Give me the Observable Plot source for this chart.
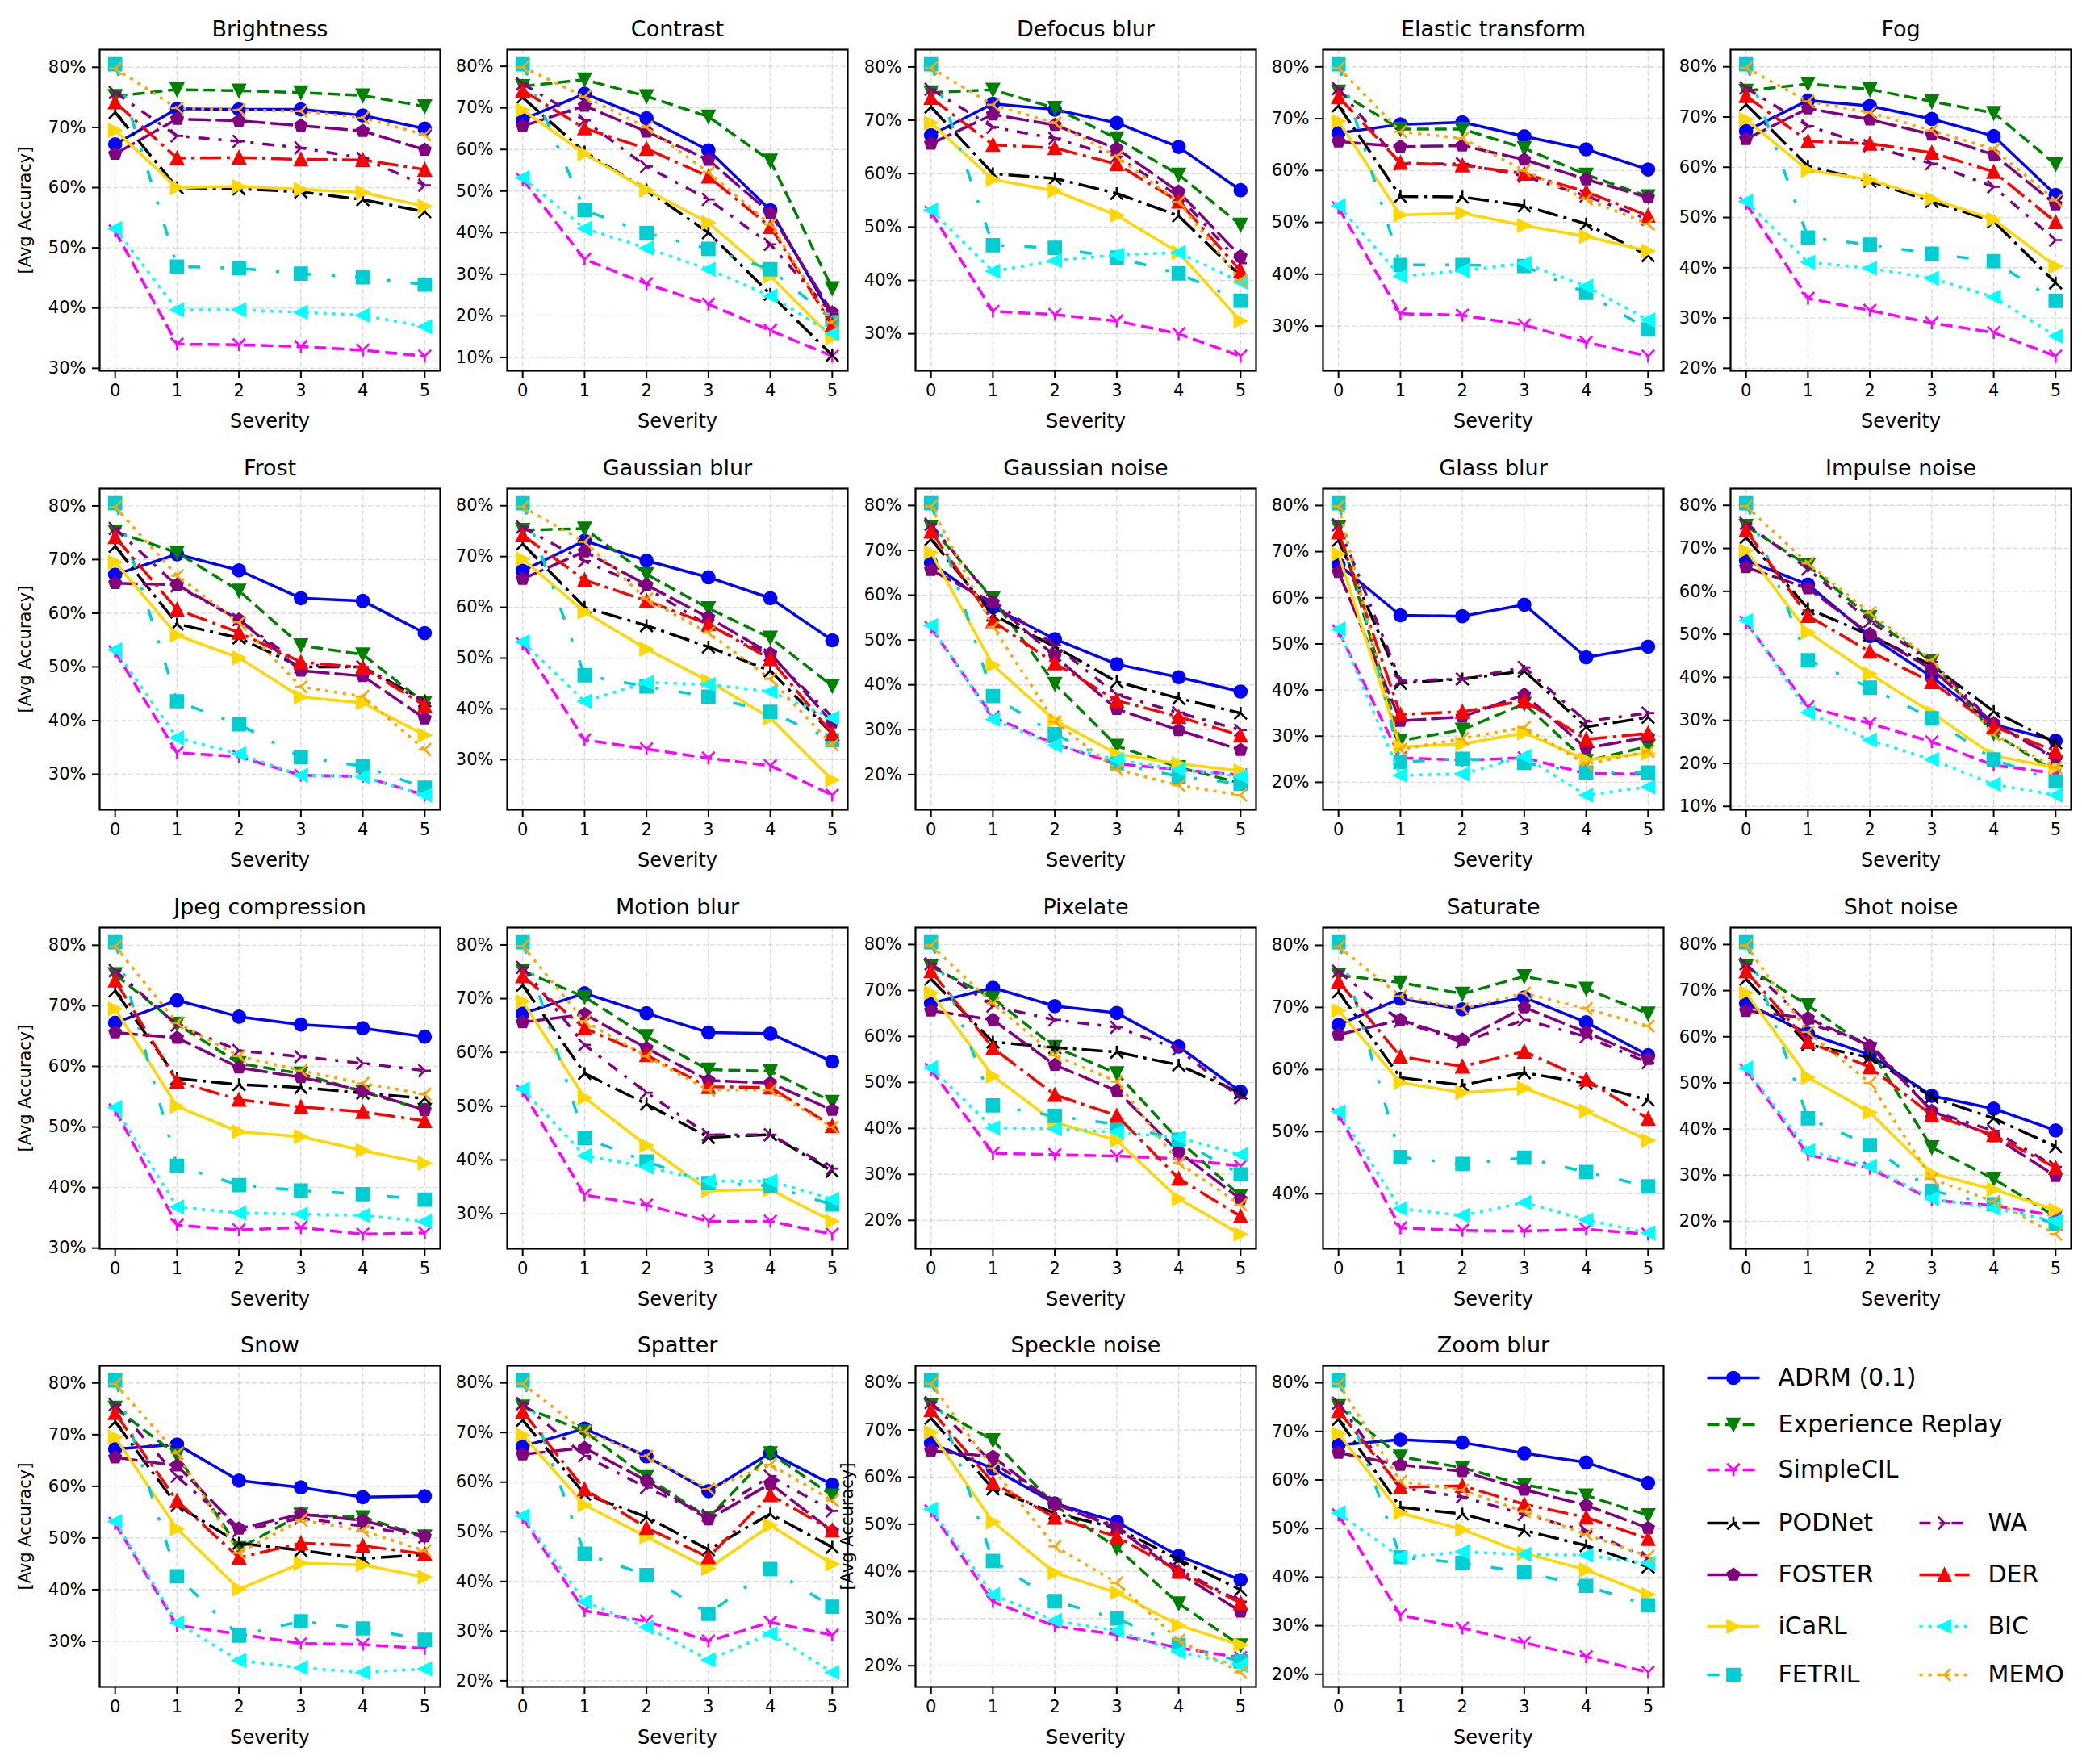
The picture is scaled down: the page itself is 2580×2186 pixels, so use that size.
<!DOCTYPE html>
<html><head><meta charset="utf-8">
<script src="https://cdn.jsdelivr.net/npm/d3@7"></script>
<script src="https://cdn.jsdelivr.net/npm/@observablehq/plot@0.6"></script>
<style>
html,body{margin:0;padding:0;background:#fff;}
#root{position:relative;width:2580px;height:2186px;background:#fff;overflow:hidden;}
.panel{position:absolute;}
.panel svg{overflow:visible;max-width:none;}
</style></head><body><div id="root"></div>
<script>
const corruptions = ["Brightness","Contrast","Defocus blur","Elastic transform","Fog","Frost","Gaussian blur","Gaussian noise","Glass blur","Impulse noise","Jpeg compression","Motion blur","Pixelate","Saturate","Shot noise","Snow","Spatter","Speckle noise","Zoom blur"];
const severities = [0,1,2,3,4,5];
const methods = ["ADRM (0.1)","Experience Replay","SimpleCIL","PODNet","FOSTER","iCaRL","FETRIL","WA","DER","BIC","MEMO"];
const yLabelPanels = ["Brightness","Frost","Jpeg compression","Snow","Speckle noise"];

const ADRM = [
[67.2,73.1,73.0,73.0,72.0,69.8],[67.2,73.4,67.5,59.8,45.4,19.8],[67.2,73.1,72.0,69.5,65.0,56.9],[67.2,68.9,69.3,66.6,64.1,60.2],
[67.2,73.3,72.2,69.6,66.2,54.5],[67.2,71.0,68.0,62.8,62.3,56.3],[67.2,73.1,69.2,65.9,61.8,53.5],[67.2,57.3,50.2,44.6,41.7,38.5],
[67.2,56.2,56.0,58.5,47.1,49.4],[67.2,61.6,49.6,40.1,29.0,25.3],[67.2,70.9,68.2,66.9,66.3,64.9],[67.2,71.0,67.3,63.7,63.5,58.3],
[67.2,70.6,66.6,65.1,57.8,48.0],[67.2,71.4,69.7,71.6,67.6,62.3],[67.2,60.7,56.1,47.2,44.4,39.7],[67.2,68.1,61.1,59.8,57.9,58.1],
[67.2,70.8,65.2,58.2,65.9,59.5],[67.2,61.8,54.4,50.5,43.3,38.2],[67.2,68.3,67.7,65.5,63.6,59.4]];
const ER = [
[75.2,76.3,76.1,75.8,75.3,73.5],[75.2,76.8,72.8,67.9,57.3,26.6],[75.2,75.7,72.3,66.6,59.8,50.4],[75.2,68.0,68.0,64.3,59.2,55.0],
[75.2,76.6,75.5,73.1,70.8,60.6],[75.2,71.3,64.2,54.0,52.3,43.3],[75.2,75.5,66.5,59.8,54.0,44.5],[75.2,59.2,40.2,26.4,21.6,18.1],
[75.2,29.0,31.4,37.0,24.6,27.8],[75.2,66.0,54.0,43.7,27.0,18.0],[75.2,67.0,60.5,58.8,55.8,52.8],[75.2,70.3,63.0,56.8,56.5,50.8],
[75.2,68.3,57.7,52.0,37.5,25.3],[75.2,74.0,72.2,75.0,73.0,69.0],[75.2,66.8,57.3,36.0,29.2,21.0],[75.2,66.0,48.0,54.5,54.0,50.3],
[75.2,70.2,61.0,52.8,65.8,57.3],[75.2,67.8,54.0,45.0,33.2,24.3],[75.2,64.8,62.5,59.0,56.8,52.7]];
const SimpleCIL = [
[52.8,34.0,33.9,33.6,33.0,32.0],[52.8,33.6,27.7,22.8,16.5,10.3],[52.8,34.2,33.6,32.4,30.0,25.8],[52.8,32.4,32.1,30.2,26.9,24.2],
[52.8,33.9,31.5,29.0,27.1,22.4],[52.8,34.0,33.3,29.8,29.6,26.1],[52.8,33.9,32.1,30.3,28.8,23.0],[52.8,32.8,26.8,22.4,21.1,19.9],
[52.8,25.3,24.8,25.3,21.9,21.8],[52.8,33.1,29.3,25.0,19.6,17.7],[52.8,33.8,33.0,33.4,32.3,32.5],[52.8,33.5,31.6,28.6,28.6,26.2],
[52.8,34.6,34.3,34.0,33.4,31.8],[52.8,34.5,34.1,34.0,34.3,33.5],[52.8,34.4,31.5,24.6,23.4,21.2],[52.8,33.1,31.4,29.6,29.4,28.6],
[52.8,34.1,32.0,28.0,31.8,29.2],[52.8,33.6,28.4,26.6,23.8,21.7],[52.8,32.2,29.5,26.5,23.6,20.4]];
const PODNet = [
[72.5,60.0,59.8,59.3,58.0,56.0],[72.5,59.4,50.3,40.0,25.2,10.5],[72.5,60.0,59.1,56.3,52.1,40.8],[72.5,55.0,54.9,53.2,49.7,43.6],
[72.5,60.2,57.2,53.2,49.2,37.0],[72.5,58.0,55.4,50.0,50.0,43.7],[72.5,60.0,56.4,52.2,47.5,35.1],[72.5,55.6,48.5,40.7,37.0,33.7],
[72.5,41.5,42.4,44.1,32.0,34.1],[72.5,56.0,49.8,42.8,32.1,24.8],[72.5,58.0,57.0,56.5,55.6,54.7],[72.5,56.1,50.4,44.2,44.7,37.9],
[72.5,58.8,57.6,56.6,53.8,47.7],[72.5,58.7,57.5,59.5,57.8,55.1],[72.5,58.3,55.5,46.9,42.3,36.2],[72.5,56.3,49.0,47.6,46.0,46.8],
[72.5,57.6,53.0,46.4,53.6,46.9],[72.5,57.5,52.3,49.2,42.5,36.1],[72.5,54.4,53.0,49.6,46.5,42.1]];
const FOSTER = [
[65.6,71.4,71.1,70.3,69.4,66.3],[65.6,70.5,64.3,57.5,44.7,20.8],[65.6,71.1,69.1,64.7,56.6,44.5],[65.6,64.6,64.8,62.1,58.3,54.8],
[65.6,71.7,69.5,66.5,62.5,52.6],[65.6,65.3,58.8,49.3,48.3,40.4],[65.6,71.0,64.4,58.0,50.9,37.3],[65.6,58.4,46.4,34.6,29.9,25.5],
[65.6,33.3,34.2,39.0,27.4,29.8],[65.6,60.7,50.1,41.9,29.3,21.3],[65.6,64.7,59.8,58.2,56.0,52.8],[65.6,67.1,60.8,54.8,54.3,49.3],
[65.6,63.6,53.8,48.2,34.9,24.6],[65.6,68.0,64.8,70.0,66.0,61.7],[65.6,64.0,58.0,43.9,38.4,29.8],[65.6,64.0,51.8,54.6,53.4,50.3],
[65.6,66.9,60.3,52.5,59.7,50.1],[65.6,64.3,54.3,49.2,39.7,31.5],[65.6,63.1,61.8,58.0,54.8,50.1]];
const iCaRL = [
[69.5,60.0,60.2,59.7,59.2,56.9],[69.5,59.0,50.3,42.4,29.6,14.7],[69.5,58.9,56.8,52.2,45.2,32.4],[69.5,51.4,51.8,49.4,47.3,44.5],
[69.5,59.4,57.5,53.7,49.6,40.3],[69.5,55.9,51.7,44.4,43.3,37.3],[69.5,59.1,51.8,45.5,38.2,26.0],[69.5,44.4,32.1,24.6,22.4,20.8],
[69.5,27.7,28.3,30.7,24.9,26.3],[69.5,50.5,40.8,31.8,21.8,19.0],[69.5,53.4,49.2,48.4,46.1,44.0],[69.5,51.6,42.7,34.3,34.5,28.6],
[69.5,51.4,41.3,37.4,24.7,17.0],[69.5,57.9,56.3,57.0,53.3,48.6],[69.5,51.2,43.6,30.4,26.9,22.4],[69.5,51.8,40.1,45.1,44.8,42.4],
[69.5,55.4,49.0,42.6,51.3,43.5],[69.5,50.5,39.7,35.5,28.6,24.4],[69.5,53.2,49.8,44.9,41.5,36.4]];
const FETRIL = [
[80.5,46.9,46.6,45.7,45.1,43.9],[80.5,45.4,39.9,36.1,31.2,19.1],[80.5,46.6,46.1,44.3,41.3,36.2],[80.5,41.8,41.8,41.6,36.4,29.4],
[80.5,46.0,44.6,42.8,41.3,33.4],[80.5,43.6,39.3,33.2,31.5,27.5],[80.5,46.6,44.4,42.4,39.4,33.8],[80.5,37.5,29.0,22.4,19.6,17.9],
[80.5,24.4,25.1,24.2,22.1,22.1],[80.5,44.0,37.6,30.5,20.9,15.8],[80.5,43.6,40.4,39.5,38.9,38.0],[80.5,44.1,39.7,35.7,35.2,31.7],
[80.5,45.0,42.7,40.9,37.5,30.0],[80.5,45.9,44.8,45.8,43.5,41.2],[80.5,42.3,36.5,26.6,23.7,19.4],[80.5,42.6,31.1,33.9,32.5,30.3],
[80.5,45.6,41.3,33.5,42.5,34.9],[80.5,42.2,33.7,30.0,24.4,20.9],[80.5,44.1,42.9,41.0,38.2,34.2]];
const WA = [
[75.8,68.6,67.7,66.6,64.9,60.4],[75.8,67.0,55.9,48.0,37.2,20.5],[75.8,68.7,66.6,63.2,55.8,43.2],[75.8,61.3,61.3,58.9,55.1,50.6],
[75.8,68.2,64.3,60.7,56.1,45.5],[75.8,65.1,58.8,50.4,50.0,43.3],[75.8,69.1,63.8,56.4,50.6,38.4],[75.8,58.8,48.8,37.8,33.8,29.9],
[75.8,42.0,42.4,44.9,33.2,35.0],[75.8,65.2,53.0,43.6,29.3,21.0],[75.8,66.8,62.6,61.6,60.5,59.3],[75.8,61.4,52.5,44.7,44.7,38.4],
[75.8,66.6,63.6,62.0,57.2,46.6],[75.8,67.8,64.4,68.0,65.3,61.1],[75.8,62.9,58.6,43.9,39.6,31.8],[75.8,61.9,51.4,53.8,52.3,50.2],
[75.8,65.3,58.9,53.3,61.2,54.2],[75.8,63.0,54.6,49.5,40.4,33.6],[75.8,58.4,56.5,52.9,49.5,44.0]];
const DER = [
[74.2,64.9,65.0,64.7,64.6,63.0],[74.2,65.1,60.2,53.5,41.4,17.8],[74.2,65.4,64.8,61.8,54.8,41.8],[74.2,61.5,61.0,59.4,55.9,51.3],
[74.2,65.2,64.7,62.9,59.1,49.1],[74.2,60.7,56.4,50.9,49.9,42.8],[74.2,65.4,61.3,56.7,49.8,35.1],[74.2,54.2,44.8,36.5,32.9,28.7],
[74.2,34.7,35.3,37.7,29.3,30.6],[74.2,54.3,46.0,38.9,28.6,22.8],[74.2,57.5,54.5,53.3,52.5,51.0],[74.2,64.5,59.5,53.6,53.5,46.3],
[74.2,57.5,47.3,42.8,29.1,20.9],[74.2,62.1,60.5,62.9,58.4,52.1],[74.2,58.9,53.4,43.0,38.7,31.6],[74.2,57.2,46.2,49.0,48.5,46.9],
[74.2,58.6,50.8,44.9,57.4,50.3],[74.2,58.8,51.4,47.4,40.0,33.3],[74.2,58.5,58.8,55.0,52.3,47.9]];
const BIC = [
[53.2,39.7,39.7,39.3,38.8,36.9],[53.2,41.0,36.3,31.2,24.8,15.7],[53.2,41.7,43.7,44.8,45.2,39.7],[53.2,39.6,40.7,42.1,37.7,31.2],
[53.2,41.1,39.9,37.9,34.2,26.4],[53.2,36.8,33.8,29.8,29.5,26.1],[53.2,41.5,45.2,44.8,43.4,38.2],[53.2,32.3,26.5,23.3,21.1,19.6],
[53.2,21.5,21.8,25.6,17.2,19.0],[53.2,31.8,25.4,20.9,15.1,12.6],[53.2,36.8,35.8,35.6,35.4,34.4],[53.2,40.8,38.7,36.1,36.1,32.7],
[53.2,40.1,39.9,39.2,38.0,34.3],[53.2,37.6,36.5,38.6,35.8,33.7],[53.2,35.3,31.9,24.9,22.8,20.0],[53.2,33.6,26.3,24.9,24.0,24.7],
[53.2,35.9,30.8,24.2,29.5,21.7],[53.2,35.1,29.6,27.4,22.9,20.1],[53.2,44.1,45.2,44.7,44.5,42.8]];
const MEMO = [
[79.8,73.2,72.9,72.7,71.6,68.8],[79.8,72.7,65.3,54.5,42.0,18.4],[79.8,72.9,69.5,63.2,54.7,40.0],[79.8,67.5,66.2,60.0,54.5,49.7],
[79.8,73.1,70.9,67.3,63.6,53.4],[79.8,67.0,58.3,46.3,44.5,34.6],[79.8,72.9,61.6,55.0,45.9,32.9],[79.8,52.9,31.8,21.1,17.6,15.4],
[79.8,27.1,29.5,31.9,23.9,26.7],[79.8,66.5,55.0,44.0,26.7,19.0],[79.8,67.2,61.7,59.3,57.2,55.4],[79.8,65.8,59.3,53.0,53.0,46.1],
[79.8,67.2,55.9,50.2,32.5,23.4],[79.8,71.8,69.8,72.3,69.8,67.0],[79.8,61.0,50.0,29.2,24.3,17.2],[79.8,66.4,47.1,53.5,51.4,47.5],
[79.8,70.2,65.2,58.6,63.5,56.3],[79.8,61.8,45.3,37.6,25.4,18.6],[79.8,59.7,57.9,53.5,48.8,44.3]];

const seriesValues = [ADRM, ER, SimpleCIL, PODNet, FOSTER, iCaRL, FETRIL, WA, DER, BIC, MEMO];

// ---------- styles ----------
function sym(fn){ return {draw(ctx, size){ const r = Math.sqrt(size/Math.PI); fn(ctx, r); }}; }
const symbols = {
  circle: sym((c,r)=>{c.moveTo(r,0); c.arc(0,0,r,0,2*Math.PI); c.closePath();}),
  tdown: sym((c,r)=>{c.moveTo(0,r); c.lineTo(-r,-r); c.lineTo(r,-r); c.closePath();}),
  tup: sym((c,r)=>{c.moveTo(0,-r); c.lineTo(-r,r); c.lineTo(r,r); c.closePath();}),
  tright: sym((c,r)=>{c.moveTo(r,0); c.lineTo(-r,-r); c.lineTo(-r,r); c.closePath();}),
  tleft: sym((c,r)=>{c.moveTo(-r,0); c.lineTo(r,-r); c.lineTo(r,r); c.closePath();}),
  square: sym((c,r)=>{c.moveTo(-r,-r); c.lineTo(r,-r); c.lineTo(r,r); c.lineTo(-r,r); c.closePath();}),
  pentagon: sym((c,r)=>{for(let k=0;k<5;k++){const a=-Math.PI/2+k*2*Math.PI/5; const x=r*Math.cos(a), y=r*Math.sin(a); if(k) c.lineTo(x,y); else c.moveTo(x,y);} c.closePath();}),
  tri1: sym((c,r)=>{c.moveTo(0,0); c.lineTo(0,r); c.moveTo(0,0); c.lineTo(-r,-r); c.moveTo(0,0); c.lineTo(r,-r);}),
  tri2: sym((c,r)=>{c.moveTo(0,0); c.lineTo(0,-r); c.moveTo(0,0); c.lineTo(-r,r); c.moveTo(0,0); c.lineTo(r,r);}),
  tri3: sym((c,r)=>{c.moveTo(0,0); c.lineTo(-r,0); c.moveTo(0,0); c.lineTo(r,-r); c.moveTo(0,0); c.lineTo(r,r);}),
  tri4: sym((c,r)=>{c.moveTo(0,0); c.lineTo(r,0); c.moveTo(0,0); c.lineTo(-r,-r); c.moveTo(0,0); c.lineTo(-r,r);})
};
const styles = [
  {color:"#0000ff", dash:null,            marker:"circle",  filled:true},
  {color:"#008000", dash:"15,7",          marker:"tdown",   filled:true},
  {color:"#ff00ff", dash:"15,7",          marker:"tri1",    filled:false},
  {color:"#000000", dash:"26,7,4,7",      marker:"tri2",    filled:false},
  {color:"#800080", dash:"28,6",          marker:"pentagon",filled:true},
  {color:"#ffd700", dash:null,            marker:"tright",  filled:true},
  {color:"#00ced1", dash:"15,25,4,25",    marker:"square",  filled:true},
  {color:"#800080", dash:"14,11,4,11",    marker:"tri4",    filled:false},
  {color:"#ff0000", dash:"26,7,4,7",      marker:"tup",     filled:true},
  {color:"#00ffff", dash:"4,7",           marker:"tleft",   filled:true},
  {color:"#ffa500", dash:"4,7",           marker:"tri3",    filled:false}
];
const LW = 3.5, MR = 7.75;
const FONT = "DejaVu Sans";

// ---------- layout ----------
const colLeft = [123, 628, 1134, 1639, 2144];
const rowTop = [61, 605, 1149, 1692];
const axW = 422, axH = 398;
const mL = 80, mR = 10, mT = 50, mB = 80;

const root = document.getElementById("root");

corruptions.forEach((name, i) => {
  const col = i % 5, row = Math.floor(i / 5);
  const table = [];
  methods.forEach((m, k) => seriesValues[k][i].forEach((v, s) => table.push({method: m, k, severity: severities[s], value: v})));
  const vals = table.map(d => d.value);
  const lo = d3.min(vals), hi = d3.max(vals), pad = (hi - lo) * 0.05;
  const domain = [lo - pad, hi + pad];
  const yt = d3.range(Math.ceil(domain[0] / 10) * 10, domain[1] + 1e-9, 10);

  const gridOpts = {stroke: "#b0b0b0", strokeOpacity: 0.45, strokeDasharray: "6,3", strokeWidth: 1.4};
  const marks = [
    Plot.gridX(severities, gridOpts),
    Plot.gridY(yt, gridOpts)
  ];
  methods.forEach((m, k) => {
    const st = styles[k];
    const data = table.filter(d => d.k === k);
    const lineOpts = {x: "severity", y: "value", stroke: st.color, strokeWidth: LW, strokeLinecap: "butt", strokeLinejoin: "round"};
    if (st.dash) lineOpts.strokeDasharray = st.dash;
    marks.push(Plot.line(data, lineOpts));
    marks.push(Plot.dot(data, {
      x: "severity", y: "value", symbol: symbols[st.marker], r: MR,
      fill: st.filled ? st.color : "none", stroke: st.color,
      strokeWidth: st.filled ? 2.2 : 2.6, strokeLinejoin: "miter"
    }));
  });
  marks.push(Plot.frame({stroke: "black", strokeWidth: 2.2}));
  marks.push(Plot.axisX(severities, {tickSize: 9, tickPadding: 8, strokeWidth: 2, fontSize: 21, label: null, tickFormat: d => String(d)}));
  marks.push(Plot.axisY(yt, {tickSize: 9, tickPadding: 8, strokeWidth: 2, fontSize: 21, label: null, tickFormat: d => d + "%"}));
  marks.push(Plot.text([name], {frameAnchor: "top", dy: -17, lineAnchor: "bottom", textAnchor: "middle", fontSize: 27, fill: "black"}));
  marks.push(Plot.text(["Severity"], {frameAnchor: "bottom", dy: 70, lineAnchor: "bottom", textAnchor: "middle", fontSize: 24, fill: "black"}));
  if (yLabelPanels.includes(name)) {
    marks.push(Plot.text(["[Avg Accuracy]"], {frameAnchor: "left", dx: col === 0 ? -92 : -84, rotate: -90, textAnchor: "middle", lineAnchor: "middle", fontSize: 21, fill: "black"}));
  }

  const chart = Plot.plot({
    width: mL + axW + mR, height: mT + axH + mB,
    marginLeft: mL, marginRight: mR, marginTop: mT, marginBottom: mB,
    style: {fontFamily: FONT, fontSize: "21px", background: "transparent", overflow: "visible", color: "black"},
    x: {domain: [-0.25, 5.25]},
    y: {domain},
    marks
  });
  const div = document.createElement("div");
  div.className = "panel";
  div.style.left = (colLeft[col] - mL) + "px";
  div.style.top = (rowTop[row] - mT) + "px";
  div.style.width = (mL + axW + mR) + "px";
  div.appendChild(chart);
  root.appendChild(div);
});

// ---------- legend ----------
const legendRowY = [47, 105, 161, 227, 291, 355, 415];
const legendCols = [{x1: 55, x2: 120, tx: 143}, {x1: 318, x2: 380, tx: 403}];
const legendSlots = methods.map((m, k) => k < 7 ? {col: 0, row: k} : {col: 1, row: k - 4});
const legendData = methods.map((m, k) => ({method: m, k, col: legendSlots[k].col, row: legendSlots[k].row}));
const LX = 2060, LY = 1660, LWd = 520, LHt = 470;
const legendMarks = [];
legendData.forEach(d => {
  const st = styles[d.k];
  const c = legendCols[d.col];
  const y = legendRowY[d.row];
  const linkOpts = {x1: () => c.x1, x2: () => c.x2, y1: () => y, y2: () => y, stroke: st.color, strokeWidth: LW, strokeLinecap: "butt"};
  if (st.dash) linkOpts.strokeDasharray = st.dash;
  legendMarks.push(Plot.link([d], linkOpts));
  legendMarks.push(Plot.dot([d], {x: () => (c.x1 + c.x2) / 2, y: () => y, symbol: symbols[st.marker], r: MR,
    fill: st.filled ? st.color : "none", stroke: st.color, strokeWidth: st.filled ? 2.2 : 2.6, strokeLinejoin: "miter"}));
  legendMarks.push(Plot.text([d], {x: () => c.tx, y: () => y, text: "method", textAnchor: "start", lineAnchor: "middle", fontSize: 30, fill: "black"}));
});
const legend = Plot.plot({
  width: LWd, height: LHt, margin: 0,
  style: {fontFamily: FONT, background: "transparent", overflow: "visible"},
  x: {type: "identity", axis: null}, y: {type: "identity", axis: null},
  marks: legendMarks
});
const ldiv = document.createElement("div");
ldiv.className = "panel";
ldiv.style.left = LX + "px";
ldiv.style.top = LY + "px";
ldiv.style.width = LWd + "px";
ldiv.appendChild(legend);
root.appendChild(ldiv);
</script>
</body></html>
